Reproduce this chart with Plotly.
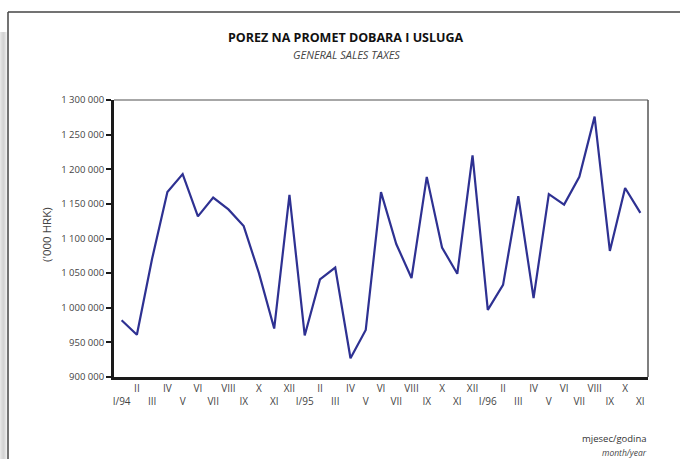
import plotly.graph_objects as go

months = ["I/94", "II", "III", "IV", "V", "VI", "VII", "VIII", "IX", "X", "XI", "XII",
          "I/95", "II", "III", "IV", "V", "VI", "VII", "VIII", "IX", "X", "XI", "XII",
          "I/96", "II", "III", "IV", "V", "VI", "VII", "VIII", "IX", "X", "XI"]
values = [982000, 961000, 1071000, 1167000, 1193000, 1132000, 1159000, 1142000, 1118000,
          1050000, 970000, 1163000, 960000, 1041000, 1058000, 927000, 968000, 1167000,
          1092000, 1043000, 1189000, 1087000, 1049000, 1220000, 997000, 1033000, 1161000,
          1014000, 1164000, 1149000, 1189000, 1276000, 1082000, 1173000, 1137000]
ytickvals = [900000, 950000, 1000000, 1050000, 1100000, 1150000, 1200000, 1250000, 1300000]
yticktext = ["900 000", "950 000", "1 000 000", "1 050 000", "1 100 000", "1 150 000",
             "1 200 000", "1 250 000", "1 300 000"]

xidx = list(range(len(months)))
xticktext = [m if i % 2 == 1 else "<br>" + m for i, m in enumerate(months)]

FONT = "Open Sans, DejaVu Sans, sans-serif"
L, R, T, B = 114, 32, 100, 82
W, H = 680, 459
pw, ph = W - L - R, H - T - B

def px(x):
    return (x - L) / pw

def py(y):
    return (H - B - y) / ph

fig = go.Figure()
fig.add_trace(go.Scatter(x=xidx, y=values, mode="lines",
                         line=dict(color="#2e3192", width=2.2), hoverinfo="y"))

shapes = []
# left grey shadow strip
greys = ["#e6e6e6", "#dedede", "#d8d8d8", "#d4d4d4", "#dadada", "#e4e4e4", "#efefef"]
for i, g in enumerate(greys):
    shapes.append(dict(type="rect", xref="paper", yref="paper",
                       x0=px(i), x1=px(i + 1), y0=py(H), y1=py(32),
                       line=dict(width=0), fillcolor=g, layer="below"))
# outer frame
shapes.append(dict(type="line", xref="paper", yref="paper", x0=px(8), x1=px(W + 2),
                   y0=py(12), y1=py(12), line=dict(color="#444", width=1.5)))
shapes.append(dict(type="line", xref="paper", yref="paper", x0=px(8), x1=px(8),
                   y0=py(12), y1=py(H + 2), line=dict(color="#444", width=1.5)))
# top and right plot frame
shapes.append(dict(type="line", xref="paper", yref="paper", x0=0, x1=1, y0=1, y1=1,
                   line=dict(color="#8a8a8a", width=1.5)))
shapes.append(dict(type="line", xref="paper", yref="paper", x0=1, x1=1, y0=0, y1=1,
                   line=dict(color="#555", width=1.5)))

def ann(text, x, y, size, color, xanchor="center", angle=0):
    return dict(text=text, xref="paper", yref="paper", x=px(x), y=py(y),
                xanchor=xanchor, yanchor="middle", textangle=angle, showarrow=False,
                font=dict(family=FONT, size=size, color=color))

annotations = [
    ann("<b>POREZ NA PROMET DOBARA I USLUGA</b>", 346, 37, 12.5, "#111"),
    ann("<i>GENERAL SALES TAXES</i>", 346, 55, 11, "#444"),
    ann("mjesec/godina", 649, 438, 9.5, "#333", xanchor="right"),
    ann("<i>month/year</i>", 649, 452, 8.5, "#444", xanchor="right"),
    ann("('000 HRK)", 46, 235, 11.5, "#444", angle=-90),
]

fig.update_layout(
    width=W, height=H,
    margin=dict(l=L, r=R, t=T, b=B, autoexpand=False),
    paper_bgcolor="white", plot_bgcolor="white",
    showlegend=False,
    shapes=shapes,
    annotations=annotations,
    xaxis=dict(range=[-0.5, 34.5], tickmode="array", tickvals=xidx, ticktext=xticktext,
               tickangle=0, showgrid=False, zeroline=False, showline=True,
               linecolor="#1a1a1a", linewidth=3, ticks="", automargin=False,
               tickfont=dict(family=FONT, size=10, color="#444"), fixedrange=True),
    yaxis=dict(range=[900000, 1300000], tickmode="array", tickvals=ytickvals,
               ticktext=yticktext, showgrid=False, zeroline=False, showline=True,
               linecolor="#1a1a1a", linewidth=3, ticks="outside", ticklen=5,
               tickwidth=2, tickcolor="#1a1a1a", automargin=False,
               tickfont=dict(family=FONT, size=9.5, color="#444"), fixedrange=True),
)

fig.write_html("out.html", config={"displayModeBar": False},
               post_script="document.body.style.margin='0px';")
